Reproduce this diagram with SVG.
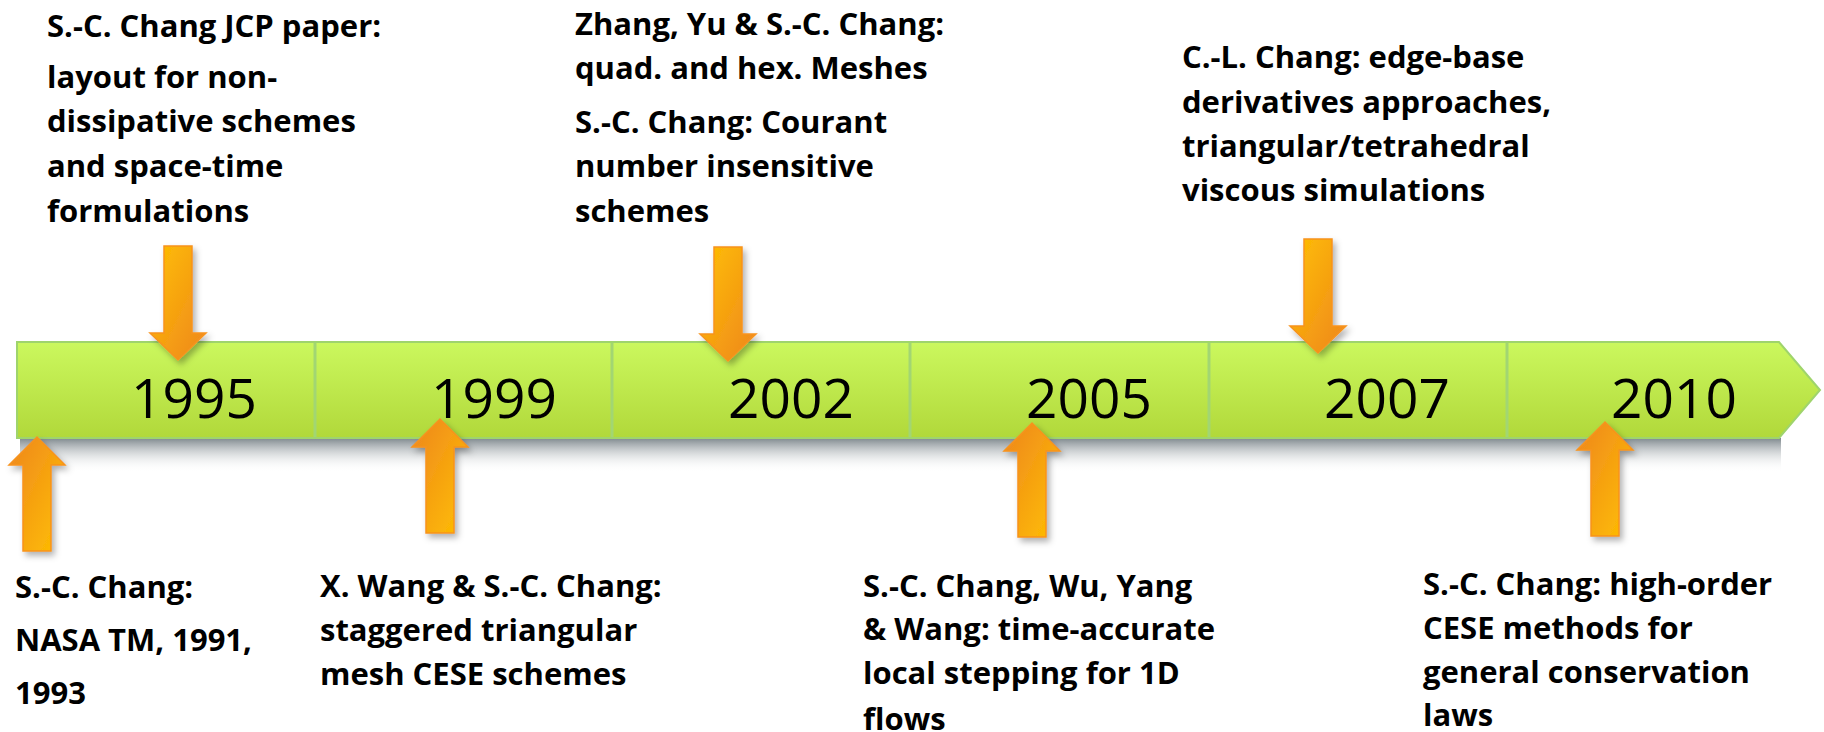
<svg xmlns="http://www.w3.org/2000/svg" width="1824" height="732" viewBox="0 0 1824 732">
<style>
.lbl{font-family:"Open Sans","Liberation Sans",sans-serif;font-weight:700;font-size:31px;fill:#000}
.yr{font-family:"Open Sans","Liberation Sans",sans-serif;font-size:55px;fill:#000;text-anchor:middle}
.arrow{stroke:#f7931e;stroke-width:1.5;filter:url(#drop)}
.down{fill:url(#gDown)}
.up{fill:url(#gUp)}
.divider{stroke:#a2d672;stroke-width:3}
</style>
<defs>
  <linearGradient id="gBar" x1="0" y1="0" x2="0" y2="1">
    <stop offset="0" stop-color="#cbf85e"/>
    <stop offset="1" stop-color="#b1d83a"/>
  </linearGradient>
  <linearGradient id="gShadow" x1="0" y1="0" x2="0" y2="1">
    <stop offset="0" stop-color="#6f7a80" stop-opacity="0.9"/>
    <stop offset="1" stop-color="#ffffff" stop-opacity="0"/>
  </linearGradient>
  <linearGradient id="gDown" x1="0" y1="0" x2="1" y2="1">
    <stop offset="0" stop-color="#ffc000"/>
    <stop offset="1" stop-color="#ee861f"/>
  </linearGradient>
  <linearGradient id="gUp" x1="0" y1="0" x2="1" y2="1">
    <stop offset="0" stop-color="#ee861f"/>
    <stop offset="1" stop-color="#ffc000"/>
  </linearGradient>
  <filter id="drop" x="-40%" y="-20%" width="180%" height="150%">
    <feDropShadow dx="3" dy="4" stdDeviation="3" flood-color="#000" flood-opacity="0.3"/>
  </filter>
  <!-- block arrows, origin at the top centre -->
  <path id="arrowDown" d="M-14,0 H14 V87 H28 L0,114 L-28,87 H-14 Z"/>
  <path id="arrowUp" d="M0,0 L28,28 H14 V114 H-14 V28 H-28 Z"/>
</defs>

<rect width="1824" height="732" fill="#ffffff"/>

<!-- timeline bar -->
<g id="timeline">
  <rect x="20" y="438" width="1761" height="34" fill="url(#gShadow)"/>
  <path d="M17,342 H1779 L1820,390 L1779,438 H17 Z" fill="url(#gBar)" stroke="#9fd46c" stroke-width="2"/>
  <line class="divider" x1="315" y1="343" x2="315" y2="437"/>
  <line class="divider" x1="612" y1="343" x2="612" y2="437"/>
  <line class="divider" x1="910" y1="343" x2="910" y2="437"/>
  <line class="divider" x1="1209" y1="343" x2="1209" y2="437"/>
  <line class="divider" x1="1507" y1="343" x2="1507" y2="437"/>
</g>

<g id="year-1995"><text class="yr" x="194" y="418">1995</text></g>
<g id="year-1999"><text class="yr" x="494" y="418">1999</text></g>
<g id="year-2002"><text class="yr" x="791" y="418">2002</text></g>
<g id="year-2005"><text class="yr" x="1089" y="418">2005</text></g>
<g id="year-2007"><text class="yr" x="1387" y="418">2007</text></g>
<g id="year-2010"><text class="yr" x="1674" y="418">2010</text></g>

<!-- event labels -->
<g id="event-jcp">
  <text class="lbl" x="47" y="37">S.-C. Chang JCP paper:</text>
  <text class="lbl" x="47" y="88">layout for non-</text>
  <text class="lbl" x="47" y="132">dissipative schemes</text>
  <text class="lbl" x="47" y="177">and space-time</text>
  <text class="lbl" x="47" y="222">formulations</text>
</g>
<g id="event-meshes">
  <text class="lbl" x="575" y="35">Zhang, Yu &amp; S.-C. Chang:</text>
  <text class="lbl" x="575" y="79">quad. and hex. Meshes</text>
  <text class="lbl" x="575" y="133">S.-C. Chang: Courant</text>
  <text class="lbl" x="575" y="177">number insensitive</text>
  <text class="lbl" x="575" y="222">schemes</text>
</g>
<g id="event-viscous">
  <text class="lbl" x="1182" y="68">C.-L. Chang: edge-base</text>
  <text class="lbl" x="1182" y="113">derivatives approaches,</text>
  <text class="lbl" x="1182" y="157">triangular/tetrahedral</text>
  <text class="lbl" x="1182" y="201">viscous simulations</text>
</g>
<g id="event-nasa">
  <text class="lbl" x="15" y="598">S.-C. Chang:</text>
  <text class="lbl" x="15" y="651">NASA TM, 1991,</text>
  <text class="lbl" x="15" y="704">1993</text>
</g>
<g id="event-staggered">
  <text class="lbl" x="320" y="597">X. Wang &amp; S.-C. Chang:</text>
  <text class="lbl" x="320" y="641">staggered triangular</text>
  <text class="lbl" x="320" y="685">mesh CESE schemes</text>
</g>
<g id="event-stepping">
  <text class="lbl" x="863" y="597">S.-C. Chang, Wu, Yang</text>
  <text class="lbl" x="863" y="640">&amp; Wang: time-accurate</text>
  <text class="lbl" x="863" y="684">local stepping for 1D</text>
  <text class="lbl" x="863" y="730">flows</text>
</g>
<g id="event-highorder">
  <text class="lbl" x="1423" y="595">S.-C. Chang: high-order</text>
  <text class="lbl" x="1423" y="639">CESE methods for</text>
  <text class="lbl" x="1423" y="683">general conservation</text>
  <text class="lbl" x="1423" y="726">laws</text>
</g>

<!-- arrows linking events to the timeline -->
<g id="connectors">
  <use href="#arrowDown" class="arrow down" transform="translate(178,246)"/>
  <use href="#arrowDown" class="arrow down" transform="translate(728,247)"/>
  <use href="#arrowDown" class="arrow down" transform="translate(1318,239)"/>
  <use href="#arrowUp" class="arrow up" transform="translate(37,437)"/>
  <use href="#arrowUp" class="arrow up" transform="translate(440,419)"/>
  <use href="#arrowUp" class="arrow up" transform="translate(1032,423)"/>
  <use href="#arrowUp" class="arrow up" transform="translate(1605,422)"/>
</g>
</svg>
